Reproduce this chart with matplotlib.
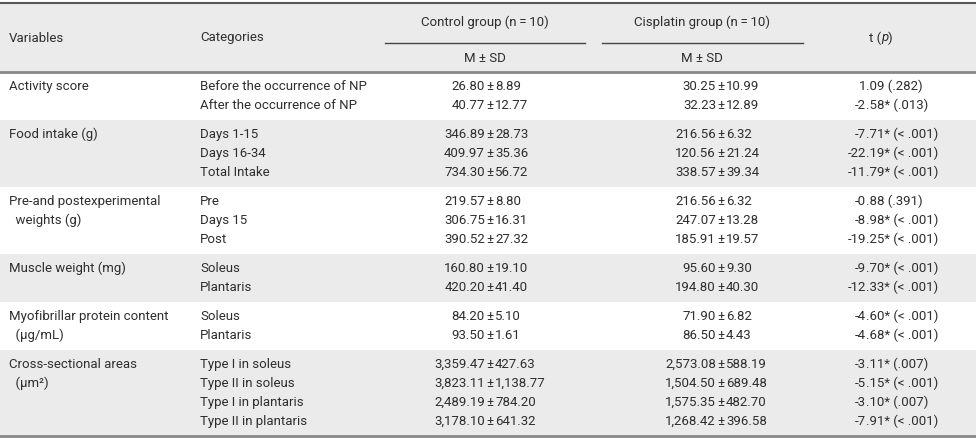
import matplotlib.pyplot as plt

plt.rcParams['font.family'] = ['Roboto', 'DejaVu Sans']

# table content
variables = [["Activity score"],
             ["Food intake (g)"],
             ["Pre-and postexperimental", "  weights (g)"],
             ["Muscle weight (mg)"],
             ["Myofibrillar protein content", "  (\u03bcg/mL)"],
             ["Cross-sectional areas", "  (\u03bcm\u00b2)"]]
categories = [["Before the occurrence of NP", "After the occurrence of NP"],
              ["Days 1-15", "Days 16-34", "Total Intake"],
              ["Pre", "Days 15", "Post"],
              ["Soleus", "Plantaris"],
              ["Soleus", "Plantaris"],
              ["Type I in soleus", "Type II in soleus", "Type I in plantaris", "Type II in plantaris"]]
ctrl_m = ["26.80", "40.77", "346.89", "409.97", "734.30", "219.57", "306.75", "390.52",
          "160.80", "420.20", "84.20", "93.50", "3,359.47", "3,823.11", "2,489.19", "3,178.10"]
ctrl_sd = ["8.89", "12.77", "28.73", "35.36", "56.72", "8.80", "16.31", "27.32",
           "19.10", "41.40", "5.10", "1.61", "427.63", "1,138.77", "784.20", "641.32"]
cis_m = ["30.25", "32.23", "216.56", "120.56", "338.57", "216.56", "247.07", "185.91",
         "95.60", "194.80", "71.90", "86.50", "2,573.08", "1,504.50", "1,575.35", "1,268.42"]
cis_sd = ["10.99", "12.89", "6.32", "21.24", "39.34", "6.32", "13.28", "19.57",
          "9.30", "40.30", "6.82", "4.43", "588.19", "689.48", "482.70", "396.58"]
t_int = ["1", "-2", "-7", "-22", "-11", "-0", "-8", "-19", "-9", "-12", "-4", "-4", "-3", "-5", "-3", "-7"]
t_rest = [".09 (.282)", ".58* (.013)", ".71* (< .001)", ".19* (< .001)", ".79* (< .001)",
          ".88 (.391)", ".98* (< .001)", ".25* (< .001)", ".70* (< .001)", ".33* (< .001)",
          ".60* (< .001)", ".68* (< .001)", ".11* (.007)", ".15* (< .001)", ".10* (.007)", ".91* (< .001)"]

W, H = 976, 441
txt = '#2e2e2e'
band = '#ebebeb'
fs = 9.5

fig = plt.figure(figsize=(9.76, 4.41), dpi=100)
ax = fig.add_axes([0, 0, 1, 1])
ax.set_xlim(0, W)
ax.set_ylim(H, 0)
ax.axis('off')

# header
ax.axhspan(3, 72, color=band, lw=0)
ax.plot([0, W], [3, 3], color='#555555', lw=1.5)
ax.plot([385, 585], [43, 43], color='#444444', lw=1)
ax.plot([602, 803], [43, 43], color='#444444', lw=1)
ax.text(9, 38, "Variables", fontsize=fs, color=txt, va='center')
ax.text(200, 38, "Categories", fontsize=fs, color=txt, va='center')
ax.text(485, 22, "Control group (n\u2009=\u200910)", fontsize=fs, color=txt, va='center', ha='center')
ax.text(702, 22, "Cisplatin group (n\u2009=\u200910)", fontsize=fs, color=txt, va='center', ha='center')
ax.text(485, 58, "M \u00b1 SD", fontsize=fs, color=txt, va='center', ha='center')
ax.text(702, 58, "M \u00b1 SD", fontsize=fs, color=txt, va='center', ha='center')
ax.text(881, 38, "t (", fontsize=fs, color=txt, va='center', ha='right')
ax.text(881, 38, "p", fontsize=fs, color=txt, va='center', ha='left', style='italic')
ax.text(888, 38, ")", fontsize=fs, color=txt, va='center', ha='left')

pitch = 19
top = 72
i = 0
for g, (var, cats) in enumerate(zip(variables, categories)):
    n = len(cats)
    h = pitch * n + 10
    if g % 2 == 1:
        ax.axhspan(top, top + h, color=band, lw=0)
    for k in range(n):
        y = top + 14.5 + pitch * k
        if k < len(var):
            ax.text(9, y, var[k], fontsize=fs, color=txt, va='center')
        ax.text(200, y, cats[k], fontsize=fs, color=txt, va='center')
        ax.text(485, y, ctrl_m[i], fontsize=fs, color=txt, va='center', ha='right')
        ax.text(490, y, "\u00b1", fontsize=fs, color=txt, va='center', ha='center')
        ax.text(495, y, ctrl_sd[i], fontsize=fs, color=txt, va='center', ha='left')
        ax.text(716, y, cis_m[i], fontsize=fs, color=txt, va='center', ha='right')
        ax.text(721, y, "\u00b1", fontsize=fs, color=txt, va='center', ha='center')
        ax.text(726, y, cis_sd[i], fontsize=fs, color=txt, va='center', ha='left')
        ax.text(866, y, t_int[i], fontsize=fs, color=txt, va='center', ha='right')
        ax.text(866, y, t_rest[i], fontsize=fs, color=txt, va='center', ha='left')
        i += 1
    top += h

ax.plot([0, W], [72, 72], color='#888888', lw=2)
ax.plot([0, W], [top, top], color='#888888', lw=2)

fig.savefig('out.png', dpi=100)
